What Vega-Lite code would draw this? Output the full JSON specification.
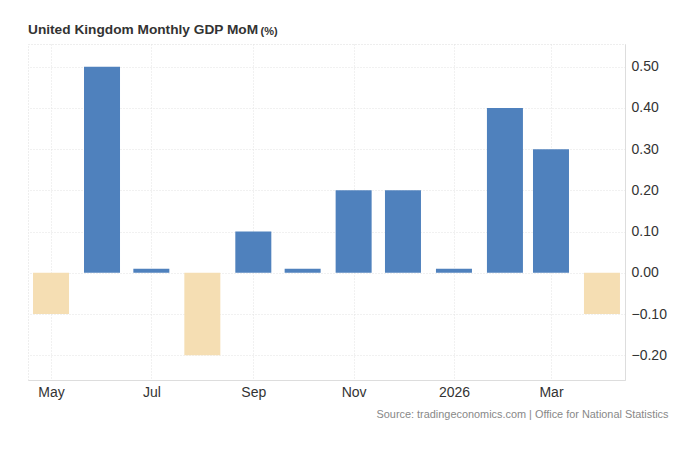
{
  "$schema": "https://vega.github.io/schema/vega-lite/v6.json",
  "width": 597,
  "height": 336,
  "autosize": "none",
  "padding": {"left": 28, "top": 44, "right": 55, "bottom": 85},
  "config": {
    "view": {"stroke": "#dddddd", "strokeDash": [1, 2]},
    "font": "Arial"
  },
  "title": {
    "text": "United Kingdom Monthly GDP MoM",
    "anchor": "start",
    "fontSize": 13.7,
    "fontWeight": "bold",
    "color": "#333333",
    "baseline": "alphabetic",
    "offset": -22,
    "font": "Arial"
  },
  "data": {
    "values": [
      {"date": "2025-05-01", "value": -0.1},
      {"date": "2025-06-01", "value": 0.5},
      {"date": "2025-07-01", "value": 0.01},
      {"date": "2025-08-01", "value": -0.2},
      {"date": "2025-09-01", "value": 0.1},
      {"date": "2025-10-01", "value": 0.01},
      {"date": "2025-11-01", "value": 0.2},
      {"date": "2025-12-01", "value": 0.2},
      {"date": "2026-01-01", "value": 0.01},
      {"date": "2026-02-01", "value": 0.4},
      {"date": "2026-03-01", "value": 0.3},
      {"date": "2026-04-01", "value": -0.1}
    ]
  },
  "mark": {"type": "bar", "width": 36},
  "encoding": {
    "x": {
      "field": "date",
      "type": "temporal",
      "scale": {
        "type": "utc",
        "padding": 0,
        "domain": [
          {"year": 2025, "month": "Apr", "date": 17, "utc": true},
          {"year": 2026, "month": "Apr", "date": 15, "utc": true}
        ]
      },
      "axis": {
        "values": [
          {"year": 2025, "month": "May", "date": 1, "utc": true},
          {"year": 2025, "month": "Jul", "date": 1, "utc": true},
          {"year": 2025, "month": "Sep", "date": 1, "utc": true},
          {"year": 2025, "month": "Nov", "date": 1, "utc": true},
          {"year": 2026, "month": "Jan", "date": 1, "utc": true},
          {"year": 2026, "month": "Mar", "date": 1, "utc": true}
        ],
        "labelExpr": "utcFormat(datum.value, '%m') == '01' ? utcFormat(datum.value, '%Y') : utcFormat(datum.value, '%b')",
        "labelFontSize": 14,
        "labelColor": "#333333",
        "labelPadding": 5,
        "labelFont": "Arial",
        "ticks": false,
        "domain": true,
        "domainColor": "#dddddd",
        "grid": true,
        "gridColor": "#e2e2e2",
        "gridDash": [1, 2],
        "title": "Source: tradingeconomics.com | Office for National Statistics",
        "titleFont": "Arial",
        "titleFontSize": 10.9,
        "titleFontWeight": "normal",
        "titleColor": "#888888",
        "titleAnchor": "end",
        "titleAlign": "right",
        "titleBaseline": "alphabetic",
        "titleX": 640,
        "titleY": 37
      }
    },
    "y": {
      "field": "value",
      "type": "quantitative",
      "scale": {"domain": [-0.26, 0.555], "nice": false, "zero": false},
      "axis": {
        "orient": "right",
        "values": [-0.2, -0.1, 0, 0.1, 0.2, 0.3, 0.4, 0.5],
        "format": ".2f",
        "labelFontSize": 14,
        "labelColor": "#333333",
        "labelFont": "Arial",
        "labelPadding": 6,
        "ticks": false,
        "domain": true,
        "domainColor": "#dddddd",
        "grid": true,
        "gridColor": "#e2e2e2",
        "gridDash": [1, 2],
        "title": "(%)",
        "titleAngle": 0,
        "titleFont": "Arial",
        "titleFontSize": 11,
        "titleFontWeight": "bold",
        "titleColor": "#333333",
        "titleAlign": "left",
        "titleBaseline": "alphabetic",
        "titleX": -365,
        "titleY": -9.5
      }
    },
    "color": {
      "condition": {"test": "datum.value < 0", "value": "#f5deb3"},
      "value": "#4f81bd"
    }
  }
}
